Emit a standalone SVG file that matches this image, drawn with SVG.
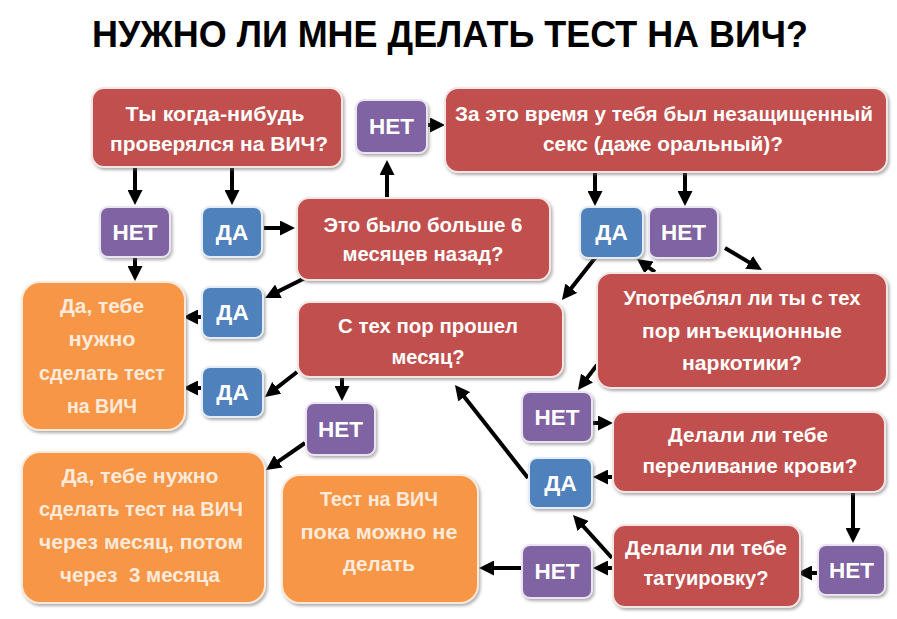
<svg xmlns="http://www.w3.org/2000/svg" width="897" height="619" viewBox="0 0 897 619">
<defs>
<filter id="sh" x="-10%" y="-10%" width="130%" height="130%">
<feDropShadow dx="1.5" dy="2" stdDeviation="1.5" flood-color="#6b6b6b" flood-opacity="0.55"/>
</filter>
<marker id="ah" markerUnits="userSpaceOnUse" markerWidth="15" markerHeight="15" viewBox="0 0 15 15" refX="7" refY="7.5" orient="auto">
<path d="M0,0 L15,7.5 L0,15 z" fill="#000"/>
</marker>
</defs>
<style>
.red{fill:#c0504d;stroke:#f4e4e4;stroke-width:2;filter:url(#sh)}
.pur{fill:#8064a2;stroke:#eae4f2;stroke-width:2;filter:url(#sh)}
.blu{fill:#4f81bd;stroke:#e4ecf6;stroke-width:2;filter:url(#sh)}
.org{fill:#f79646;stroke:#fde9d9;stroke-width:2;filter:url(#sh)}
text{font-family:"Liberation Sans",Arial,sans-serif;font-weight:bold;text-anchor:middle}
.t{font-size:20.5px;fill:#ffffff}
.o{font-size:20px;fill:#fdeada;white-space:pre}
.s{font-size:22.5px;fill:#ffffff}
.title{font-size:36px;fill:#000;text-anchor:start}
#conn line{stroke:#000;stroke-width:4}
</style>
<rect width="897" height="619" fill="#ffffff"/>
<text class="title" x="92" y="47" textLength="716" lengthAdjust="spacingAndGlyphs">НУЖНО ЛИ МНЕ ДЕЛАТЬ ТЕСТ НА ВИЧ?</text>

<g id="conn" marker-end="url(#ah)">
<line x1="135" y1="168" x2="135" y2="197"/>
<line x1="232" y1="168" x2="232" y2="197"/>
<line x1="264" y1="228" x2="287" y2="228"/>
<line x1="387" y1="198" x2="387" y2="168"/>
<line x1="428" y1="125" x2="437" y2="125"/>
<line x1="135" y1="258" x2="135" y2="273"/>
<line x1="305" y1="278" x2="272.2" y2="294.4"/>
<line x1="202" y1="317" x2="191" y2="317"/>
<line x1="297" y1="372" x2="271.3" y2="392.1"/>
<line x1="202" y1="388" x2="191" y2="388"/>
<line x1="342" y1="378" x2="342" y2="393"/>
<line x1="305" y1="443" x2="272.6" y2="465.4"/>
<line x1="595" y1="172" x2="595" y2="198"/>
<line x1="685" y1="172" x2="685" y2="198"/>
<line x1="725" y1="248" x2="755.1" y2="265.9"/>
<line x1="595" y1="258" x2="566.9" y2="293.7"/>
<line x1="655" y1="272" x2="643.5" y2="263.7"/>
<line x1="597" y1="365" x2="582.8" y2="383.6"/>
<line x1="593" y1="423" x2="605" y2="423"/>
<line x1="613" y1="477" x2="601" y2="477"/>
<line x1="528" y1="478" x2="459.9" y2="391.3"/>
<line x1="853" y1="493" x2="853" y2="535"/>
<line x1="818" y1="573" x2="805" y2="573"/>
<line x1="612" y1="558" x2="578.4" y2="520.9"/>
<line x1="613" y1="568" x2="601" y2="568"/>
<line x1="522" y1="568" x2="487" y2="568"/>
</g>

<g id="q1"><rect class="red" x="92" y="88" width="250" height="79" rx="12"/>
<text class="t" x="215" y="121" textLength="179" lengthAdjust="spacingAndGlyphs">Ты когда-нибудь</text>
<text class="t" x="219" y="151" textLength="218" lengthAdjust="spacingAndGlyphs">проверялся на ВИЧ?</text></g>

<g id="q2"><rect class="red" x="445" y="88" width="442" height="84" rx="13"/>
<text class="t" x="664" y="121" textLength="418" lengthAdjust="spacingAndGlyphs">За это время у тебя был незащищенный</text>
<text class="t" x="663" y="151" textLength="240" lengthAdjust="spacingAndGlyphs">секс (даже оральный)?</text></g>

<g id="q3"><rect class="red" x="297" y="198" width="253" height="82" rx="12"/>
<text class="t" x="423" y="232" textLength="199" lengthAdjust="spacingAndGlyphs">Это было больше 6</text>
<text class="t" x="423" y="261" textLength="161" lengthAdjust="spacingAndGlyphs">месяцев назад?</text></g>

<g id="q4"><rect class="red" x="298" y="302" width="265" height="75" rx="12"/>
<text class="t" x="428" y="333" textLength="180" lengthAdjust="spacingAndGlyphs">С тех пор прошел</text>
<text class="t" x="428" y="364" textLength="73" lengthAdjust="spacingAndGlyphs">месяц?</text></g>

<g id="q5"><rect class="red" x="597" y="273" width="290" height="115" rx="14"/>
<text class="t" x="742" y="305" textLength="237" lengthAdjust="spacingAndGlyphs">Употреблял ли ты с тех</text>
<text class="t" x="742" y="338" textLength="200" lengthAdjust="spacingAndGlyphs">пор инъекционные</text>
<text class="t" x="742" y="370" textLength="120" lengthAdjust="spacingAndGlyphs">наркотики?</text></g>

<g id="q6"><rect class="red" x="613" y="412" width="272" height="80" rx="12"/>
<text class="t" x="748" y="442" textLength="160" lengthAdjust="spacingAndGlyphs">Делали ли тебе</text>
<text class="t" x="750" y="473" textLength="215" lengthAdjust="spacingAndGlyphs">переливание крови?</text></g>

<g id="q7"><rect class="red" x="613" y="525" width="187" height="82" rx="12"/>
<text class="t" x="706" y="555" textLength="162" lengthAdjust="spacingAndGlyphs">Делали ли тебе</text>
<text class="t" x="706" y="585" textLength="125" lengthAdjust="spacingAndGlyphs">татуировку?</text></g>

<g id="r1"><rect class="org" x="22" y="282" width="163" height="148" rx="18"/>
<text class="o" x="102" y="313" textLength="84" lengthAdjust="spacingAndGlyphs">Да, тебе</text>
<text class="o" x="102" y="346" textLength="67" lengthAdjust="spacingAndGlyphs">нужно</text>
<text class="o" x="102" y="380" textLength="126" lengthAdjust="spacingAndGlyphs">сделать тест</text>
<text class="o" x="102" y="413" textLength="70" lengthAdjust="spacingAndGlyphs">на ВИЧ</text></g>

<g id="r2"><rect class="org" x="22" y="452" width="243" height="151" rx="18"/>
<text class="o" x="140" y="483" textLength="157" lengthAdjust="spacingAndGlyphs">Да, тебе нужно</text>
<text class="o" x="141" y="516" textLength="204" lengthAdjust="spacingAndGlyphs">сделать тест на ВИЧ</text>
<text class="o" x="141" y="549" textLength="204" lengthAdjust="spacingAndGlyphs">через месяц, потом</text>
<text class="o" x="140" y="582" textLength="160" lengthAdjust="spacingAndGlyphs">через  3 месяца</text></g>

<g id="r3"><rect class="org" x="282" y="475" width="196" height="128" rx="18"/>
<text class="o" x="379" y="506" textLength="118" lengthAdjust="spacingAndGlyphs">Тест на ВИЧ</text>
<text class="o" x="379" y="539" textLength="157" lengthAdjust="spacingAndGlyphs">пока можно не</text>
<text class="o" x="379" y="571" textLength="72" lengthAdjust="spacingAndGlyphs">делать</text></g>

<g id="n1"><rect class="pur" x="356" y="100" width="71" height="53" rx="8"/><text class="s" x="391.5" y="134">НЕТ</text></g>
<g id="n2"><rect class="pur" x="100" y="207" width="70" height="50" rx="8"/><text class="s" x="135" y="240">НЕТ</text></g>
<g id="d1"><rect class="blu" x="202" y="207" width="60" height="50" rx="8"/><text class="s" x="232" y="240">ДА</text></g>
<g id="d2"><rect class="blu" x="202" y="287" width="61" height="51" rx="8"/><text class="s" x="232.5" y="320">ДА</text></g>
<g id="d3"><rect class="blu" x="202" y="367" width="61" height="50" rx="8"/><text class="s" x="232.5" y="400">ДА</text></g>
<g id="n3"><rect class="pur" x="306" y="403" width="69" height="52" rx="8"/><text class="s" x="340.5" y="437">НЕТ</text></g>
<g id="d4"><rect class="blu" x="580" y="207" width="63" height="51" rx="8"/><text class="s" x="611.5" y="240">ДА</text></g>
<g id="n4"><rect class="pur" x="649" y="207" width="69" height="51" rx="8"/><text class="s" x="683.5" y="240">НЕТ</text></g>
<g id="n5"><rect class="pur" x="522" y="392" width="70" height="50" rx="8"/><text class="s" x="557" y="425">НЕТ</text></g>
<g id="d5"><rect class="blu" x="529" y="458" width="63" height="50" rx="8"/><text class="s" x="560.5" y="491">ДА</text></g>
<g id="n6"><rect class="pur" x="818" y="545" width="67" height="50" rx="8"/><text class="s" x="851.5" y="578">НЕТ</text></g>
<g id="n7"><rect class="pur" x="522" y="545" width="70" height="53" rx="8"/><text class="s" x="557" y="579">НЕТ</text></g>
</svg>
